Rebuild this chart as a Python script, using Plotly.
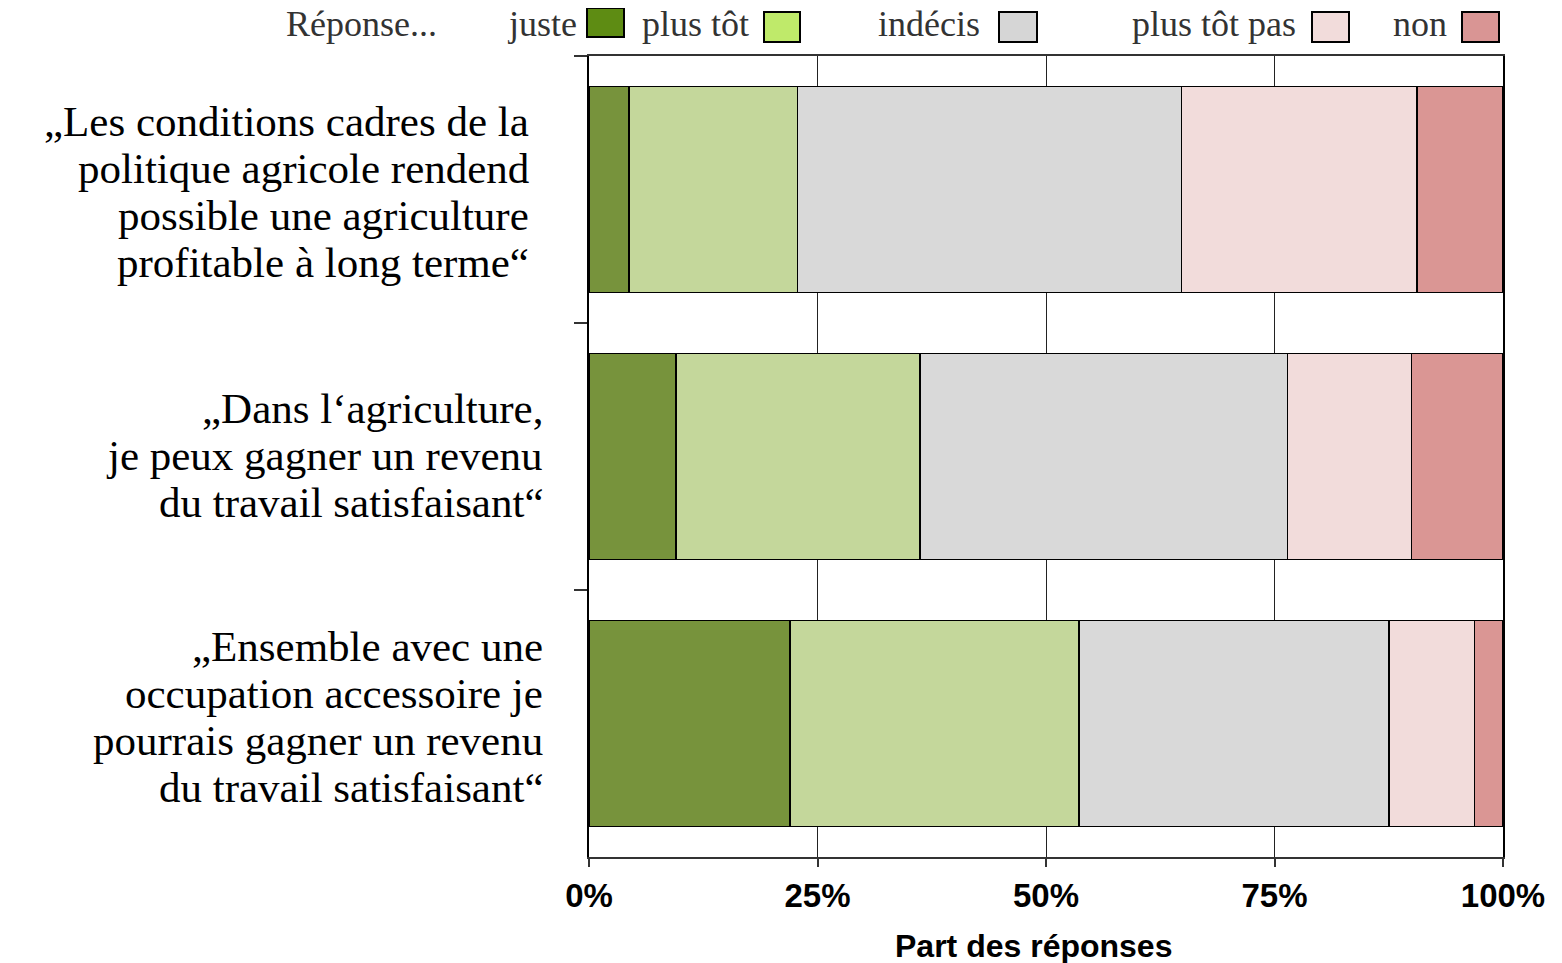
import plotly.graph_objects as go

# ---- data ----
label_lines = [
    ["„Les conditions cadres de la", "politique agricole rendend",
     "possible une agriculture", "profitable à long terme“"],
    ["„Dans l‘agriculture,", "je peux gagner un revenu", "du travail satisfaisant“"],
    ["„Ensemble avec une", "occupation accessoire je",
     "pourrais gagner un revenu", "du travail satisfaisant“"],
]
categories = ["<br>".join(l) for l in label_lines]

series_names = ["juste", "plus tôt", "indécis", "plus tôt pas", "non"]
juste = [4.4, 9.5, 22.0]
plus_tot = [18.4, 26.7, 31.6]
indecis = [42.0, 40.2, 33.9]
plus_tot_pas = [25.8, 13.6, 9.4]
non = [9.4, 10.0, 3.1]
series_values = [juste, plus_tot, indecis, plus_tot_pas, non]

x_tick_vals = [0, 25, 50, 75, 100]
x_tick_text = ["0%", "25%", "50%", "75%", "100%"]
legend_title = "Réponse..."
x_title = "Part des réponses"

# ---- styles / layout ----
bar_colors = ["#77933C", "#C4D79B", "#D9D9D9", "#F2DCDB", "#DA9694"]
legend_colors = ["#5E8C13", "#BFEA6A", "#D6D6D6", "#F2DCDB", "#D99594"]

OFF = 8  # page body margin compensation
PAGE_W, PAGE_H = 1562, 963
W, H = PAGE_W - OFF, PAGE_H - OFF
# plot area in page pixels
L, R, T, B = 589, 1503, 56, 857


def px_x(p):
    return (p - L) / (R - L)


def px_y(p):
    return (B - p) / (B - T)


fig = go.Figure()
for name, vals, col in zip(series_names, series_values, bar_colors):
    fig.add_trace(go.Bar(
        y=categories, x=vals, name=name, orientation="h",
        marker=dict(color=col, line=dict(color="black", width=1.5)),
        width=0.77, showlegend=False,
    ))

annotations = []
label_xshift = [-58, -44, -44]
label_yshift = [-2, 1, 7]
line_gap = 47
for cat, lines, xs, ys in zip(categories, label_lines, label_xshift, label_yshift):
    n = len(lines)
    for j, txt in enumerate(lines):
        annotations.append(dict(
            text=txt, x=0, xref="paper", y=cat, yref="y",
            xanchor="right", yanchor="middle", xshift=xs,
            yshift=((n - 1) / 2 - j) * line_gap + ys,
            showarrow=False,
            font=dict(family="Liberation Serif", size=43, color="black"),
        ))

# custom legend
leg_font = dict(family="Liberation Serif", size=36, color="#333333")
leg_y = 24
annotations.append(dict(text=legend_title, x=px_x(361), y=px_y(leg_y), xref="paper",
                        yref="paper", xanchor="center", yanchor="middle",
                        showarrow=False, font=leg_font))
text_right = [579, 751, 982, 1298, 1449]
box_x = [(587, 624), (764, 800), (999, 1037), (1312, 1349), (1462, 1499)]
box_y = [(8, 37), (12, 42), (12, 42), (12, 42), (12, 42)]
shapes = []
for name, tr, bx, by, col in zip(series_names, text_right, box_x, box_y, legend_colors):
    annotations.append(dict(text=name, x=px_x(tr), y=px_y(leg_y), xref="paper",
                            yref="paper", xanchor="right", yanchor="middle",
                            showarrow=False, font=leg_font))
    shapes.append(dict(type="rect", xref="paper", yref="paper",
                       x0=px_x(bx[0]), x1=px_x(bx[1]), y0=px_y(by[1]), y1=px_y(by[0]),
                       fillcolor=col, line=dict(color="black", width=2)))

# x axis title
annotations.append(dict(text=x_title, x=px_x(1033), y=px_y(946), xref="paper",
                        yref="paper", xanchor="center", yanchor="middle",
                        showarrow=False,
                        font=dict(family="Liberation Sans", size=32, color="black",
                                  weight="bold")))

fig.update_layout(
    width=W, height=H, autosize=False,
    margin=dict(l=L - OFF, r=PAGE_W - R, t=T - OFF, b=PAGE_H - B, pad=0),
    paper_bgcolor="white", plot_bgcolor="white",
    barmode="stack", bargap=0.23,
    annotations=annotations, shapes=shapes,
    xaxis=dict(
        range=[0, 100], tickmode="array", tickvals=x_tick_vals, ticktext=x_tick_text,
        showgrid=True, gridcolor="#222222", gridwidth=1.2,
        showline=True, linecolor="#333333", linewidth=2, mirror=True,
        ticks="outside", ticklen=8, tickwidth=1.5, tickcolor="#333333",
        ticklabelstandoff=0,
        tickfont=dict(family="Liberation Sans", size=33, color="black", weight="bold"),
        zeroline=False, fixedrange=True,
    ),
    yaxis=dict(
        type="category", categoryorder="array", categoryarray=categories,
        range=[2.5, -0.5], tickson="boundaries",
        showticklabels=False, showgrid=False,
        showline=True, linecolor="black", linewidth=2, mirror=True,
        ticks="outside", ticklen=13, tickwidth=1.5, tickcolor="#333333",
        fixedrange=True,
    ),
)

fig.write_html("out.html")
